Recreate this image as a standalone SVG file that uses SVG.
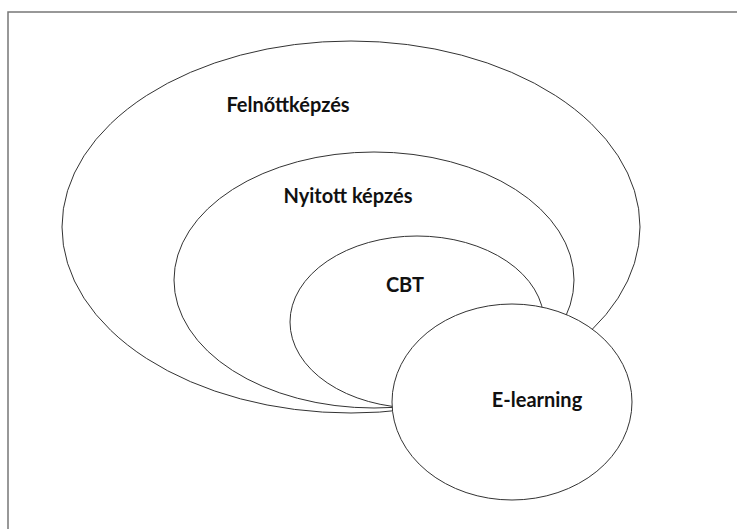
<svg xmlns="http://www.w3.org/2000/svg" width="737" height="529" viewBox="0 0 737 529">
  <style>
    .set { fill: none; stroke: #333; stroke-width: 1; }
    .front { fill: #fff; stroke: #333; stroke-width: 1; }
    .label { font-family: Lato, "Open Sans", sans-serif; font-weight: bold; font-size: 20px; fill: #111; text-anchor: middle; }
  </style>
  <rect width="737" height="529" fill="#fff"/>
  <!-- frame -->
  <path d="M8 540 V12 H745" fill="none" stroke="#777" stroke-width="1.5"/>
  <g id="felnottkepzes">
    <ellipse class="set" cx="351" cy="227" rx="289" ry="186"/>
    <text class="label" x="288" y="112">Felnőttképzés</text>
  </g>
  <g id="nyitott-kepzes">
    <ellipse class="set" cx="374" cy="280" rx="200" ry="128"/>
    <text class="label" x="348" y="203">Nyitott képzés</text>
  </g>
  <g id="cbt">
    <ellipse class="set" cx="417" cy="322" rx="127" ry="86"/>
    <text class="label" x="405" y="292">CBT</text>
  </g>
  <g id="e-learning">
    <ellipse class="front" cx="512" cy="402" rx="120" ry="98"/>
    <text class="label" x="537" y="407">E-learning</text>
  </g>
</svg>
